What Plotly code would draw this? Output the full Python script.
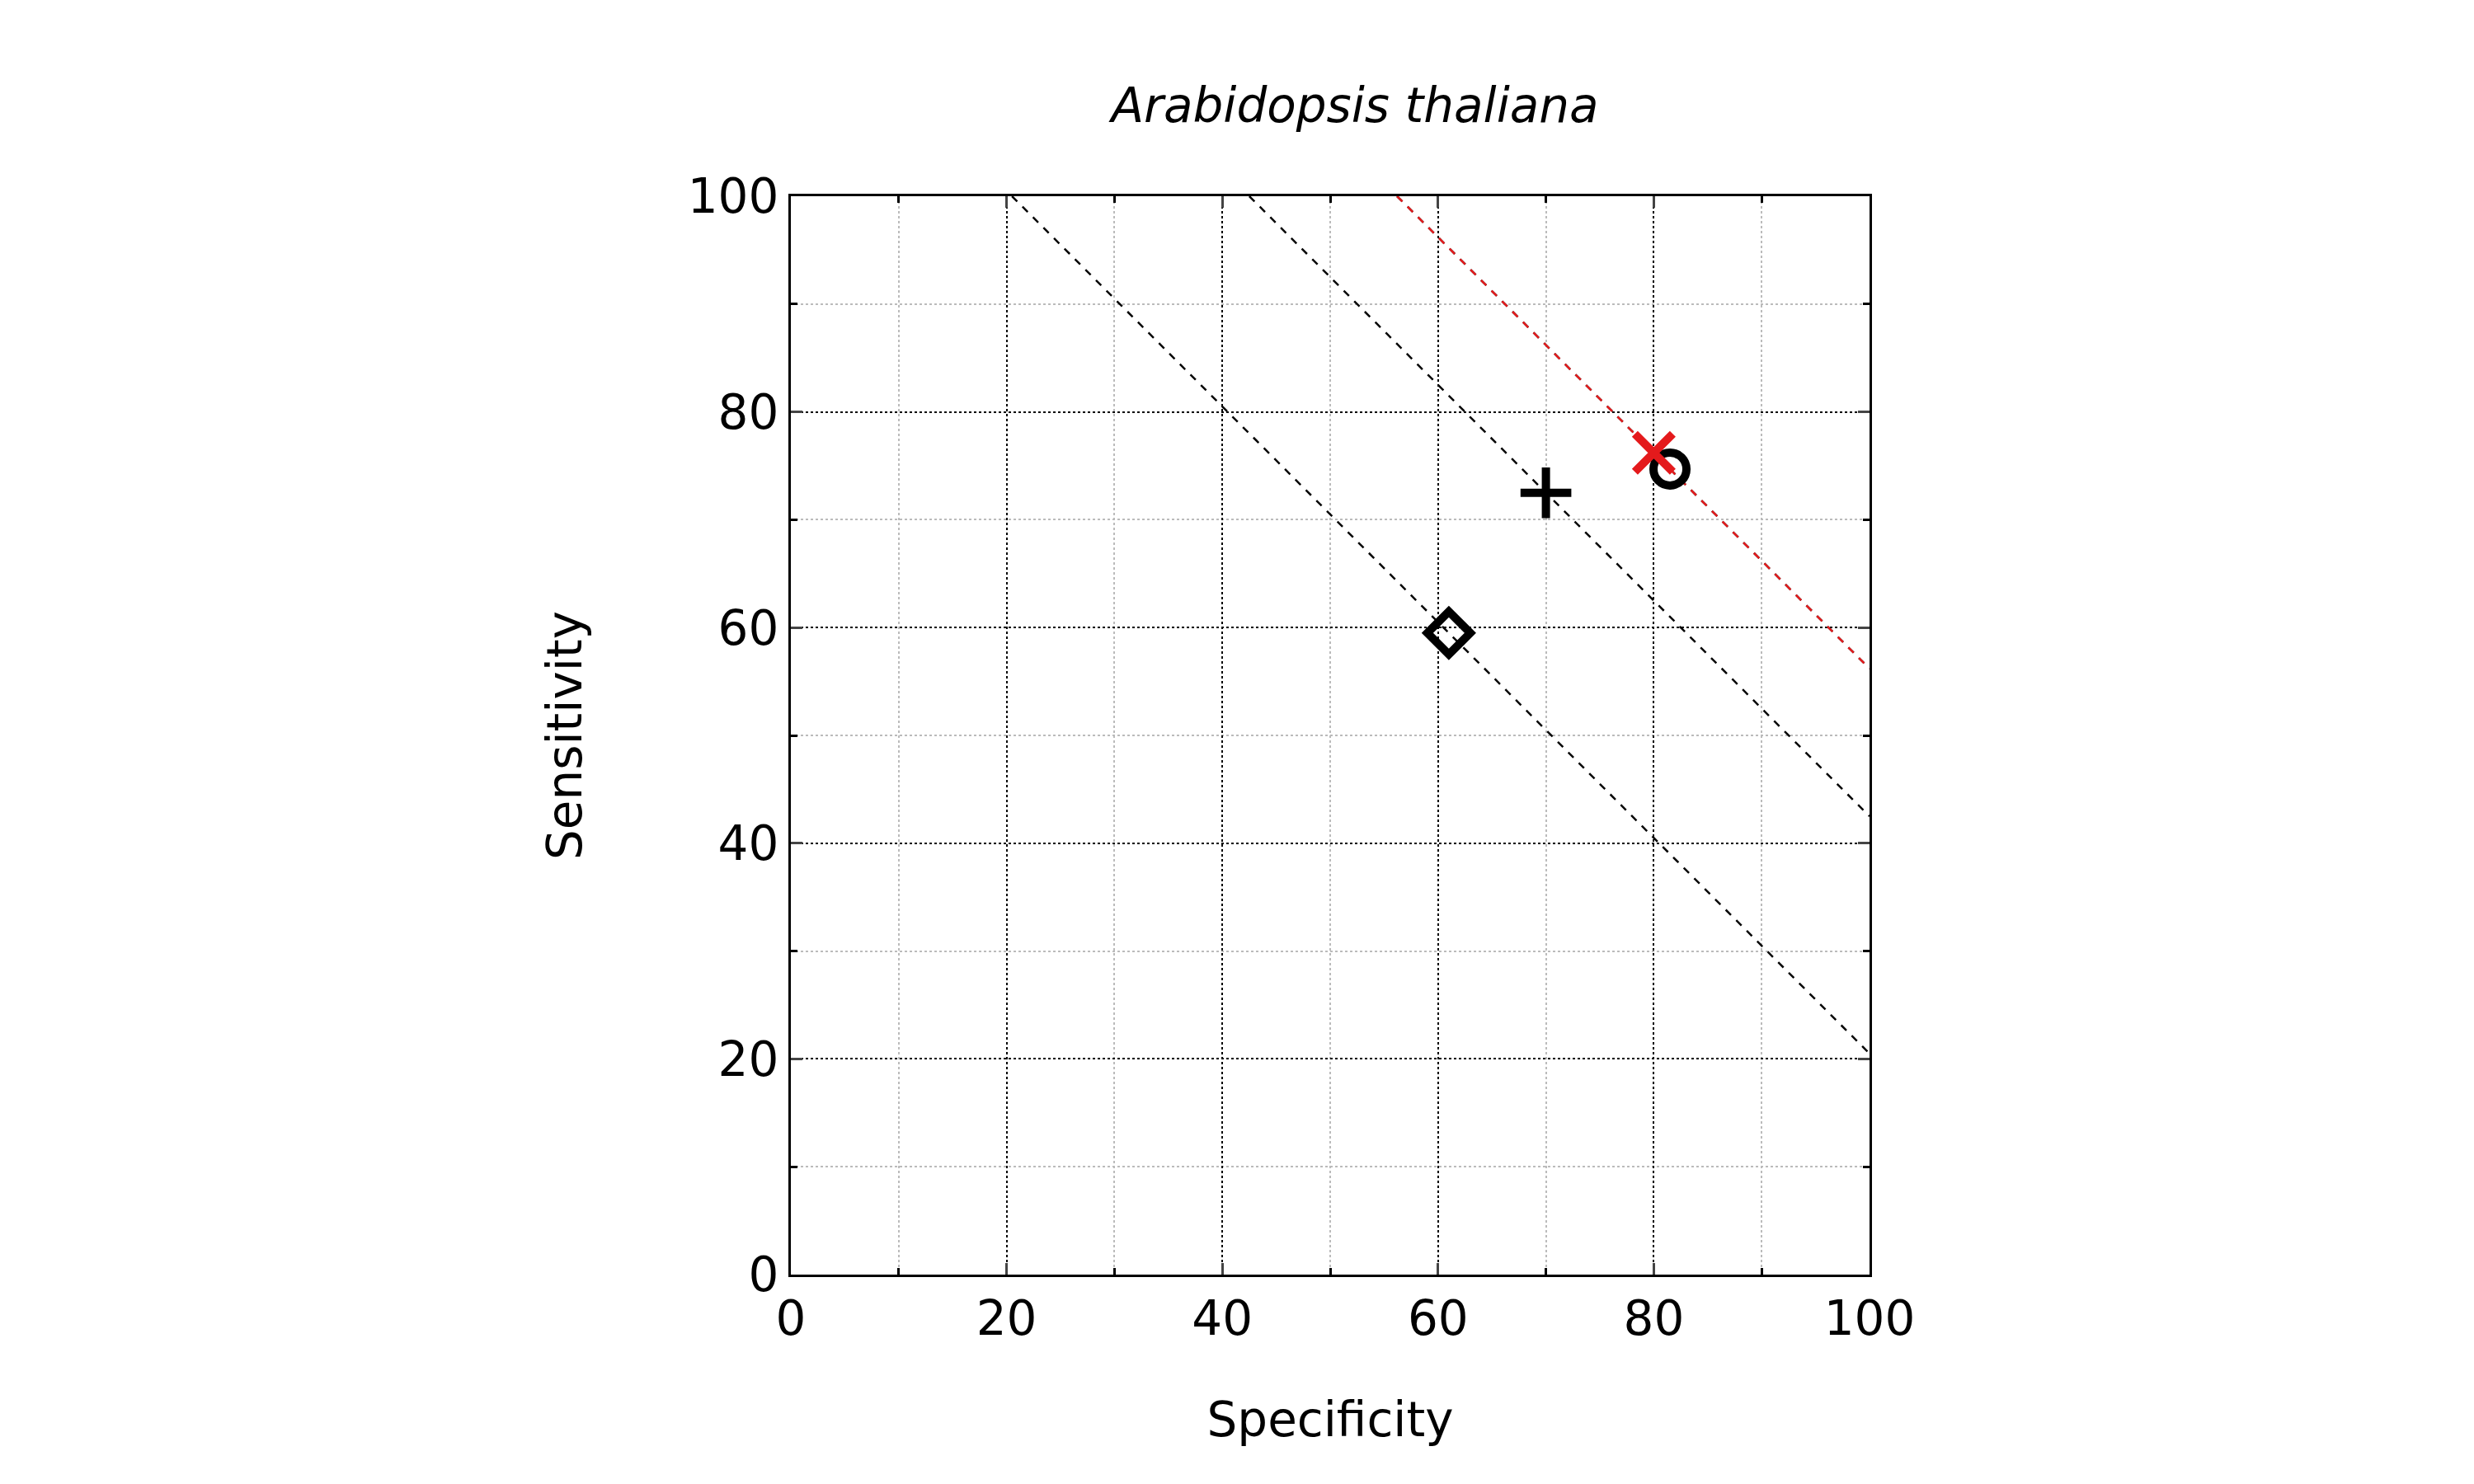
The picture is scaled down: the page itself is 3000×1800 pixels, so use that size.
import plotly.graph_objects as go

# Points (specificity, sensitivity)
names = ["diamond", "plus", "circle", "cross"]
spec = [61.0, 70.0, 81.5, 80.0]
sens = [59.5, 72.5, 74.7, 76.2]
symbols = ["diamond-open", "cross-thin-open", "circle-open", "x-thin-open"]
colors = ["black", "black", "black", "#e41a1c"]
sizes = [40, 44, 40, 46]

fig = go.Figure()

# iso-lines spec + sens = const through each point
for s, e, c in zip(spec, sens, colors):
    total = s + e
    x0 = max(0, total - 100)
    x1 = min(100, total)
    fig.add_trace(go.Scatter(x=[x0, x1], y=[total - x0, total - x1], mode="lines",
                             line=dict(color=c, width=2.5, dash="dash"),
                             showlegend=False, hoverinfo="skip"))

for n, s, e, sym, c, sz in zip(names, spec, sens, symbols, colors, sizes):
    fig.add_trace(go.Scatter(x=[s], y=[e], mode="markers", name=n,
                             marker=dict(symbol=sym, size=sz, color=c,
                                         line=dict(color=c, width=10)),
                             showlegend=False))

axis_common = dict(range=[0, 100], tickmode="linear", dtick=20, ticks="inside", ticklen=14,
                   tickwidth=3, linecolor="black", linewidth=3, mirror="allticks",
                   showgrid=True, gridcolor="black", griddash="dot", gridwidth=2,
                   minor=dict(dtick=10, ticks="inside", ticklen=8, tickwidth=3, tickcolor="black",
                              showgrid=True, gridcolor="#bbbbbb", griddash="dot", gridwidth=2),
                   zeroline=False, tickfont=dict(size=58), showline=True)

fig.update_xaxes(title=dict(text="Specificity", font=dict(size=58), standoff=70), **axis_common)
fig.update_yaxes(title=dict(text="Sensitivity", font=dict(size=58), standoff=110), **axis_common)

fig.update_layout(
    width=3000, height=1800,
    template="plotly_white",
    plot_bgcolor="white", paper_bgcolor="white",
    font=dict(family="DejaVu Sans", color="black"),
    title=dict(text="<i>Arabidopsis thaliana</i>", x=0.545, xanchor="center", y=0.945,
               font=dict(size=58)),
    margin=dict(l=951, r=741, t=230, b=262),
)

fig.write_html("out.html")
